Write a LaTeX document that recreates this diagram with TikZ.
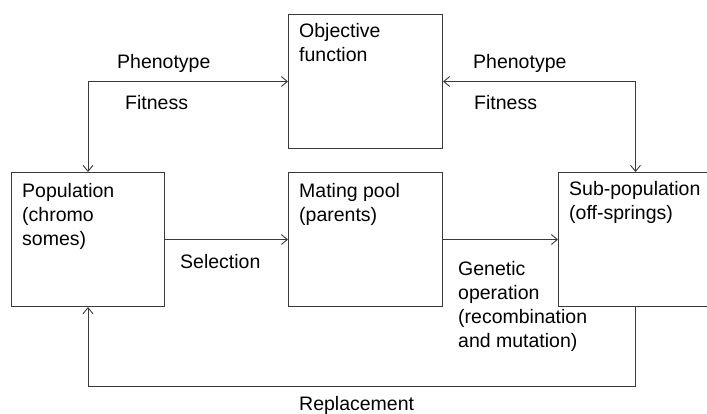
\documentclass[tikz,border=0pt]{standalone}
\usepackage{fontspec}
\setmainfont{Liberation Sans}
\usetikzlibrary{arrows.meta}
\definecolor{linecol}{HTML}{3A3A3A}
\begin{document}
\begin{tikzpicture}[x=1pt,y=-1pt,
  box/.style={draw=linecol, line width=1pt, rectangle, inner sep=0pt, anchor=north west, minimum width=#1, minimum height=134pt},
  box/.default=154pt,
  txt/.style={anchor=base west, inner sep=0pt, font=\fontsize{19.5}{23.5}\selectfont},
  link/.style={draw=linecol, line width=0.9pt, arrows={-Straight Barb[length=6pt,width=10pt,line width=0.9pt]}},
  dlink/.style={draw=linecol, line width=0.9pt, arrows={Straight Barb[length=6pt,width=10pt,line width=0.9pt]-Straight Barb[length=6pt,width=10pt,line width=0.9pt]}}]
\useasboundingbox (0,0) rectangle (707,413);
% boxes
\node[box] (obj) at (288,14) {};
\node[box=153pt] (pop) at (11,172) {};
\node[box] (mate) at (288,172) {};
\node[box] (sub) at (558,172) {};
% box texts
\node[txt] (o1) at (299,37) {Objective};
\node[txt] (o2) at (299,61) {function};
\node[txt] (p1) at (22,197) {Population};
\node[txt] (p2) at (22,221) {(chromo};
\node[txt] (p3) at (22,245) {somes)};
\node[txt] (m1) at (299,197) {Mating pool};
\node[txt] (m2) at (299,221) {(parents)};
\node[txt] (s1) at (569,195) {Sub-population};
\node[txt] (s2) at (569,219) {(off-springs)};
% connectors
\coordinate (rb) at (0,386);
\draw[dlink] (obj.west) -| (pop.north);
\draw[dlink] (obj.east) -| (sub.north);
\draw[link] (pop.east) -- (mate.west);
\draw[link] (mate.east) -- (sub.west);
\draw[link] (sub.south) -- (sub.south |- rb) -| (pop.south);
% labels
\node[txt] (l1) at (117,68) {Phenotype};
\node[txt] (l2) at (125,109) {Fitness};
\node[txt] (l3) at (473,68) {Phenotype};
\node[txt] (l4) at (474,109) {Fitness};
\node[txt] (l5) at (180,268) {Selection};
\node[txt] (g1) at (458,275) {Genetic};
\node[txt] (g2) at (458,299) {operation};
\node[txt] (g3) at (458,323) {(recombination};
\node[txt] (g4) at (458,347) {and mutation)};
\node[txt] (l6) at (299,410) {Replacement};
\end{tikzpicture}
\end{document}
